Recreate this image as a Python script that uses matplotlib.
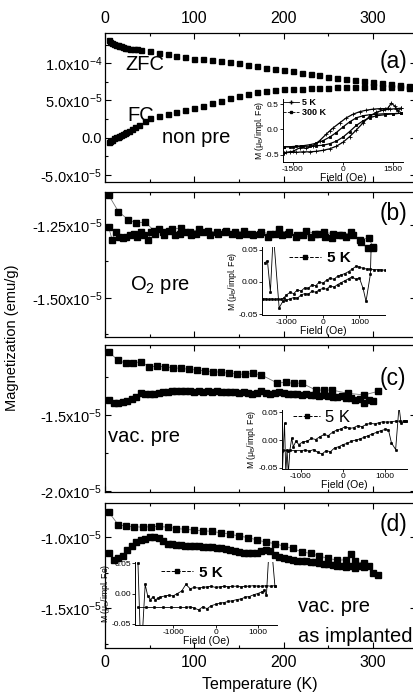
import matplotlib
matplotlib.use('Agg')
import matplotlib.pyplot as plt
from matplotlib.lines import Line2D

plt.rcParams['font.family'] = ['Liberation Sans', 'DejaVu Sans']
plt.rcParams['mathtext.fontset'] = 'custom'
plt.rcParams['mathtext.rm'] = 'Liberation Sans'
plt.rcParams['mathtext.it'] = 'Liberation Sans:italic'
plt.rcParams['mathtext.bf'] = 'Liberation Sans:bold'

# ---- main panels: temperature (K) and magnetization (units of 1e-5 emu/g) ----
t_zfc_a = [4, 6, 8, 10, 12, 14, 16, 18, 20, 22, 25, 28, 32, 36, 40, 50, 60, 70, 80, 90,
           100, 110, 120, 130, 140, 150, 160, 170, 180, 190, 200, 210, 220, 230, 240,
           250, 260, 270, 280, 290, 300, 310, 320, 330, 340]
m_zfc_a = [13.1, 12.9, 12.75, 12.6, 12.5, 12.4, 12.3, 12.25, 12.15, 12.1, 12.0, 11.95,
           11.9, 11.85, 11.8, 11.6, 11.4, 11.2, 11.0, 10.8, 10.6, 10.5, 10.4, 10.25,
           10.1, 10.0, 9.8, 9.6, 9.4, 9.25, 9.05, 8.9, 8.7, 8.55, 8.35, 8.15, 8.0, 7.85,
           7.7, 7.6, 7.5, 7.35, 7.2, 7.05, 6.9]
t_fc_a = [4, 6, 8, 10, 12, 14, 16, 18, 20, 22, 24, 27, 30, 34, 38, 45, 50, 60, 70, 80,
          90, 100, 110, 120, 130, 140, 150, 160, 170, 180, 190, 200, 210, 220, 230, 240,
          250, 260, 270, 280, 290, 300, 310, 320, 330, 340]
m_fc_a = [-0.6, -0.4, -0.25, -0.1, 0.05, 0.15, 0.25, 0.35, 0.45, 0.6, 0.75, 0.95, 1.2,
          1.45, 1.7, 2.2, 2.6, 2.9, 3.2, 3.45, 3.7, 3.95, 4.25, 4.6, 4.95, 5.3, 5.65,
          5.9, 6.1, 6.3, 6.4, 6.5, 6.55, 6.6, 6.65, 6.7, 6.72, 6.75, 6.8, 6.82, 6.85,
          6.87, 6.85, 6.8, 6.75, 6.7]

t_zfc_b = [4, 15, 26, 35, 45, 55, 65, 75, 85, 95, 105, 115, 125, 135, 145, 155, 165,
           175, 185, 195, 205, 215, 225, 235, 245, 255, 265, 275, 285, 295, 300]
m_zfc_b = [-1.147, -1.204, -1.232, -1.243, -1.24, -1.27, -1.275, -1.265, -1.26, -1.275,
           -1.265, -1.27, -1.275, -1.27, -1.275, -1.27, -1.28, -1.275, -1.28, -1.265,
           -1.28, -1.285, -1.27, -1.28, -1.275, -1.28, -1.285, -1.275, -1.30, -1.295,
           -1.325]
t_fc_b = [4, 8, 12, 16, 20, 24, 28, 32, 36, 40, 44, 48, 52, 56, 60, 66, 72, 78, 84, 90,
          96, 102, 110, 118, 126, 134, 142, 150, 158, 166, 174, 182, 190, 198, 206, 214,
          222, 230, 238, 246, 254, 262, 270, 278, 286, 294, 300]
m_fc_b = [-1.258, -1.30, -1.275, -1.29, -1.295, -1.29, -1.285, -1.28, -1.29, -1.275,
          -1.285, -1.30, -1.275, -1.28, -1.265, -1.285, -1.27, -1.285, -1.28, -1.275,
          -1.285, -1.28, -1.275, -1.285, -1.28, -1.275, -1.28, -1.285, -1.28, -1.285,
          -1.28, -1.29, -1.28, -1.285, -1.275, -1.29, -1.285, -1.29, -1.28, -1.29,
          -1.295, -1.285, -1.29, -1.285, -1.31, -1.33, -1.33]

t_zfc_c = [4, 14, 23, 31, 40, 49, 58, 67, 76, 85, 94, 103, 112, 121, 130, 139, 148,
           157, 166, 175, 193, 202, 211, 220, 236, 245, 254, 272, 290, 305]
m_zfc_c = [-1.083, -1.138, -1.16, -1.16, -1.149, -1.182, -1.18, -1.182, -1.19, -1.193,
           -1.20, -1.204, -1.21, -1.215, -1.219, -1.226, -1.23, -1.233, -1.226, -1.237,
           -1.29, -1.285, -1.292, -1.29, -1.336, -1.336, -1.336, -1.357, -1.368, -1.345]
t_fc_c = [5, 10, 15, 20, 25, 30, 35, 40, 45, 50, 55, 60, 65, 70, 75, 80, 85, 90, 95,
          100, 105, 110, 115, 120, 125, 130, 135, 140, 145, 150, 155, 160, 165, 170,
          175, 180, 185, 190, 195, 200, 205, 210, 215, 220, 225, 230, 235, 240, 245,
          250, 255, 260, 265, 270, 275, 280, 285, 290, 295, 300]
m_fc_c = [-1.40, -1.423, -1.42, -1.412, -1.405, -1.397, -1.38, -1.353, -1.36, -1.362,
          -1.36, -1.357, -1.35, -1.347, -1.345, -1.34, -1.34, -1.34, -1.345, -1.347,
          -1.345, -1.347, -1.345, -1.347, -1.345, -1.35, -1.348, -1.35, -1.35, -1.352,
          -1.35, -1.353, -1.36, -1.357, -1.345, -1.353, -1.36, -1.357, -1.35, -1.357,
          -1.362, -1.36, -1.362, -1.365, -1.36, -1.368, -1.37, -1.373, -1.365, -1.378,
          -1.38, -1.384, -1.375, -1.39, -1.385, -1.40, -1.395, -1.42, -1.40, -1.41]

t_zfc_d = [4, 15, 24, 33, 42, 51, 60, 70, 80, 90, 100, 110, 120, 130, 140, 150, 160,
           170, 180, 190, 200, 210, 220, 230, 240, 250, 260, 270, 275, 280, 290]
m_zfc_d = [-0.822, -0.915, -0.923, -0.927, -0.93, -0.927, -0.925, -0.93, -0.94, -0.945,
           -0.951, -0.955, -0.96, -0.97, -0.979, -0.993, -1.003, -1.02, -1.035, -1.046,
           -1.063, -1.08, -1.103, -1.115, -1.134, -1.15, -1.162, -1.16, -1.12, -1.17,
           -1.185]
t_fc_d = [5, 10, 15, 20, 25, 30, 35, 40, 45, 50, 55, 60, 65, 70, 75, 80, 85, 90, 95,
          100, 105, 110, 115, 120, 125, 130, 135, 140, 145, 150, 155, 160, 165, 170,
          175, 180, 185, 190, 195, 200, 205, 210, 215, 220, 225, 230, 235, 240, 245,
          250, 255, 260, 265, 270, 275, 280, 285, 290, 295, 300, 305]
m_fc_d = [-1.11, -1.16, -1.15, -1.13, -1.09, -1.06, -1.035, -1.02, -1.01, -1.0, -1.0,
          -1.005, -1.03, -1.045, -1.05, -1.055, -1.058, -1.06, -1.062, -1.063, -1.065,
          -1.068, -1.07, -1.072, -1.075, -1.08, -1.085, -1.09, -1.097, -1.104, -1.11,
          -1.115, -1.115, -1.11, -1.10, -1.088, -1.10, -1.125, -1.14, -1.15, -1.157,
          -1.162, -1.165, -1.167, -1.17, -1.174, -1.178, -1.182, -1.186, -1.19, -1.195,
          -1.2, -1.205, -1.21, -1.2, -1.215, -1.205, -1.21, -1.205, -1.255, -1.268]

# ---- insets: field (Oe) and moment (mu_B / implanted Fe) ----
h_a5_dn = [1750, 1650, 1550, 1450, 1350, 1250, 1100, 900, 700, 500, 300, 100, -100,
           -300, -400, -500, -700, -900, -1100, -1300, -1500, -1700, -1780]
m_a5_dn = [0.42, 0.36, 0.46, 0.52, 0.42, 0.41, 0.41, 0.40, 0.38, 0.35, 0.30, 0.23, 0.13,
           0.03, -0.03, -0.09, -0.22, -0.32, -0.37, -0.36, -0.43, -0.45, -0.46]
h_a5_up = [-1780, -1600, -1400, -1200, -1000, -800, -600, -400, -200, 0, 200, 400, 600,
           800, 1000, 1200, 1400, 1600, 1750]
m_a5_up = [-0.46, -0.45, -0.45, -0.44, -0.44, -0.43, -0.41, -0.38, -0.33, -0.25, -0.14,
           -0.01, 0.13, 0.26, 0.34, 0.38, 0.40, 0.41, 0.42]
h_a300_dn = [1750, 1500, 1250, 1000, 800, 600, 400, 200, 0, -200, -400, -600, -800,
             -1000, -1200, -1400, -1600, -1780]
m_a300_dn = [0.32, 0.31, 0.31, 0.30, 0.29, 0.27, 0.23, 0.15, 0.05, -0.06, -0.15, -0.22,
             -0.27, -0.30, -0.32, -0.33, -0.34, -0.34]
h_a300_up = [-1780, -1500, -1250, -1000, -800, -600, -400, -200, 0, 200, 400, 600, 800,
             1000, 1250, 1500, 1750]
m_a300_up = [-0.34, -0.34, -0.33, -0.33, -0.32, -0.31, -0.28, -0.23, -0.15, -0.04, 0.08,
             0.17, 0.23, 0.27, 0.29, 0.31, 0.32]

h_b1 = [-1640, -1560, -1480, -1400, -1320, -1240, -1160, -1080, -1000, -900, -800, -700,
        -600, -500, -400, -300, -200, -100, 0, 100, 200, 300, 400, 500, 600, 700, 800,
        900, 1000, 1100, 1200, 1300, 1400, 1500, 1600, 1700]
m_b1 = [-0.026, -0.026, -0.027, -0.026, -0.027, -0.026, -0.027, -0.025, -0.020, -0.016,
        -0.018, -0.012, -0.014, -0.009, -0.010, -0.004, -0.006, 0.0, -0.002, 0.003, 0.006,
        0.004, 0.009, 0.011, 0.013, 0.016, 0.020, 0.024, 0.023, 0.021, 0.020, 0.020,
        0.019, 0.019, 0.019, 0.018]
h_b2 = [-1600, -1520, -1440, -1360, -1200, -1100, -1000, -900, -800, -700, -600, -500,
        -400, -300, -200, -100, 0, 100, 200, 300, 400, 500, 600, 700, 800, 900, 1000,
        1100, 1180, 1300, 1330]
m_b2 = [0.030, 0.032, -0.015, 0.075, -0.040, -0.030, -0.028, -0.026, -0.024, -0.025,
        -0.020, -0.018, -0.019, -0.014, -0.016, -0.012, -0.010, -0.011, -0.006, -0.008,
        -0.004, -0.001, 0.002, 0.005, 0.008, 0.004, 0.006, -0.010, -0.030, 0.012, 0.075]

h_c1 = [-1440, -1420, -1390, -1360, -1330, -1300, -1260, -1220, -1180, -1120, -1050,
        -950, -850, -750, -650, -550, -450, -350, -250, -150, -50, 50, 150, 250, 350,
        450, 550, 650, 750, 850, 950, 1050, 1150, 1250, 1350, 1450, 1500]
m_c1 = [-0.060, -0.017, 0.030, -0.060, -0.017, -0.060, -0.017, 0.003, -0.012, -0.002,
        -0.008, -0.003, -0.002, 0.003, 0.001, 0.006, 0.010, 0.008, 0.014, 0.018, 0.020,
        0.024, 0.021, 0.022, 0.026, 0.024, 0.028, 0.030, 0.029, 0.031, 0.033, 0.032,
        0.033, 0.034, 0.034, 0.034, 0.035]
h_c2 = [-1440, -1300, -1150, -1000, -900, -800, -700, -600, -500, -400, -300, -200,
        -100, 0, 100, 200, 300, 400, 500, 600, 700, 800, 900, 1000, 1080, 1150, 1250,
        1330, 1380, 1450, 1500]
m_c2 = [-0.019, -0.019, -0.019, -0.019, -0.018, -0.020, -0.017, -0.022, -0.025, -0.019,
        -0.021, -0.014, -0.012, -0.008, -0.006, -0.002, 0.000, 0.002, 0.005, 0.008,
        0.011, 0.014, 0.017, 0.019, 0.018, -0.005, -0.017, 0.060, 0.030, 0.034, 0.034]

h_d1 = [-1830, -1780, -1720, -1660, -1600, -1540, -1480, -1420, -1350, -1300, -1200,
        -1100, -1000, -900, -800, -700, -600, -500, -400, -300, -200, -100, 0, 100, 200,
        300, 400, 500, 600, 700, 800, 900, 1000, 1100, 1200, 1300, 1400]
m_d1 = [0.05, -0.06, -0.06, 0.015, -0.004, -0.010, -0.006, -0.010, -0.008, -0.006,
        -0.004, -0.003, -0.004, 0.0, 0.004, 0.015, 0.008, 0.010, 0.009, 0.010, 0.011,
        0.012, 0.010, 0.011, 0.012, 0.011, 0.012, 0.012, 0.011, 0.012, 0.012, 0.013,
        0.012, 0.012, 0.013, 0.012, 0.013]
h_d2 = [-1830, -1650, -1450, -1250, -1050, -850, -700, -600, -500, -400, -300, -200,
        -100, 0, 100, 200, 300, 400, 500, 600, 700, 800, 900, 1000, 1100, 1150, 1200,
        1260, 1330, 1400]
m_d2 = [-0.023, -0.023, -0.023, -0.023, -0.023, -0.023, -0.023, -0.022, -0.024, -0.027,
        -0.022, -0.025, -0.020, -0.018, -0.016, -0.015, -0.013, -0.012, -0.010, -0.009,
        -0.006, -0.005, -0.002, 0.000, 0.003, 0.005, -0.003, 0.070, 0.070, 0.013]

fig = plt.figure(figsize=(4.14, 6.93), dpi=100)
W, H = 414.0, 693.0


def px_rect(left, top, right, bottom):
    return [left / W, 1 - bottom / H, (right - left) / W, (bottom - top) / H]


def main_panel(top, bottom, ylim, yticks, ylabels, yminor):
    ax = fig.add_axes(px_rect(105, top, 416, bottom))
    ax.set_xlim(0, 348)
    ax.set_ylim(*ylim)
    ax.set_xticks([0, 100, 200, 300])
    ax.set_xticks([50, 150, 250], minor=True)
    ax.set_yticks(yticks)
    ax.set_yticklabels(ylabels)
    ax.set_yticks(yminor, minor=True)
    ax.tick_params(which='both', direction='in', top=True, right=True,
                   labelbottom=False, width=0.8)
    ax.tick_params(which='major', length=4)
    ax.tick_params(which='minor', length=2.5)
    ax.tick_params(axis='y', labelsize=10.5, pad=2)
    ax.tick_params(axis='x', labelsize=11.5, pad=5)
    for s in ax.spines.values():
        s.set_linewidth(0.9)
    return ax


def series(ax, t, m, ms, line=True):
    if line:
        ax.plot(t, m, color='0.45', lw=0.6, zorder=1)
    ax.plot(t, m, ls='none', marker='s', ms=ms, color='black', mec='black', zorder=2)


ax_a = main_panel(33, 182, (-5.95, 14.05), [-5, 0, 5, 10],
                  ['-5.0x10$^{-5}$', '0.0', '5.0x10$^{-5}$', '1.0x10$^{-4}$'],
                  [-2.5, 2.5, 7.5, 12.5])
ax_a.tick_params(labeltop=True)
series(ax_a, t_zfc_a, m_zfc_a, 3.6, line=False)
series(ax_a, t_fc_a, m_fc_a, 3.6, line=False)

ax_b = main_panel(192, 337, (-1.634, -1.137), [-1.5, -1.25],
                  ['-1.50x10$^{-5}$', '-1.25x10$^{-5}$'], [-1.625, -1.375])
series(ax_b, t_zfc_b, m_zfc_b, 4.5)
series(ax_b, t_fc_b, m_fc_b, 4.5)

ax_c = main_panel(345, 492, (-2.005, -1.04), [-2.0, -1.5],
                  ['-2.0x10$^{-5}$', '-1.5x10$^{-5}$'], [-1.75, -1.25])
series(ax_c, t_zfc_c, m_zfc_c, 4.0)
series(ax_c, t_fc_c, m_fc_c, 4.0)

ax_d = main_panel(503, 648, (-1.78, -0.76), [-1.5, -1.0],
                  ['-1.5x10$^{-5}$', '-1.0x10$^{-5}$'], [-1.75, -1.25])
ax_d.tick_params(labelbottom=True)
series(ax_d, t_zfc_d, m_zfc_d, 4.0)
series(ax_d, t_fc_d, m_fc_d, 4.0)


def ftext(x, y, s, size, **kw):
    fig.text(x / W, 1 - y / H, s, fontsize=size, ha='left', va='baseline', **kw)


ftext(380, 68, '(a)', 16.5)
ftext(380, 220, '(b)', 16.5)
ftext(380, 385, '(c)', 16.5)
ftext(380, 531, '(d)', 16.5)
ftext(125, 70, 'ZFC', 14.5)
ftext(127, 121, 'FC', 14.5)
ftext(162, 143, 'non pre', 14.5)
ftext(130, 290, 'O$_2$ pre', 14.5)
ftext(108, 442, 'vac. pre', 14.5)
ftext(298, 612, 'vac. pre', 14.5)
ftext(298, 642, 'as implanted', 14.5)

fig.text(12 / W, 1 - 338 / H, 'Magnetization (emu/g)', rotation=90,
         ha='center', va='center', fontsize=10.5)
fig.text(260 / W, 1 - 685 / H, 'Temperature (K)', ha='center', va='center',
         fontsize=11.5)


def inset(rect, xlim, ylim, xticks, xlabels, yticks, ylabels, ylab_x):
    ins = fig.add_axes(rect, facecolor='none')
    ins.spines['top'].set_visible(False)
    ins.spines['right'].set_visible(False)
    for s in ins.spines.values():
        s.set_linewidth(0.7)
    ins.set_xlim(*xlim)
    ins.set_ylim(*ylim)
    ins.set_xticks(xticks)
    ins.set_xticklabels(xlabels)
    ins.set_yticks(yticks)
    ins.set_yticklabels(ylabels)
    ins.tick_params(direction='out', length=2, width=0.6, labelsize=6, pad=1)
    ins.set_xlabel('Field (Oe)', fontsize=7.5, labelpad=0)
    ins.set_ylabel('M (μ$_\\mathrm{B}$/impl. Fe)', fontsize=6.2)
    ins.yaxis.set_label_coords(ylab_x, 0.5)
    return ins


def loop(ins, h, m, marker, ms, lw=0.6):
    ins.plot(h, m, color='black', lw=lw, marker=marker, ms=ms, mew=0.6)


ins_a = inset(px_rect(283, 99, 403, 162), (-1800, 1800), (-0.64, 0.60),
              [-1500, 0, 1500], ['-1500', '0', '1500'],
              [-0.5, 0.0, 0.5], ['-0.5', '0.0', '0.5'], -0.145)
loop(ins_a, h_a5_dn, m_a5_dn, '+', 2.5, 0.9)
loop(ins_a, h_a5_up, m_a5_up, '+', 2.5, 0.9)
loop(ins_a, h_a300_dn, m_a300_dn, 's', 1.5, 0.9)
loop(ins_a, h_a300_up, m_a300_up, 's', 1.5, 0.9)
leg_a = [Line2D([], [], color='black', lw=0.6, marker='+', ms=3),
         Line2D([], [], color='black', lw=0.6, ls='--', marker='s', ms=2)]
ins_a.legend(leg_a, ['5 K', '300 K'], loc='upper left', bbox_to_anchor=(0.0, 1.02),
             frameon=False, prop={'size': 6.5, 'weight': 'bold'}, handlelength=1.8,
             handletextpad=0.3, borderpad=0, borderaxespad=0, labelspacing=0.15)

inset_ticks = dict(xticks=[-1000, 0, 1000], xlabels=['-1000', '0', '1000'],
                   yticks=[-0.05, 0.0, 0.05], ylabels=['-0.05', '0.00', '0.05'])
proxy = Line2D([], [], color='black', lw=0.7, ls='--', marker='s', ms=2.2)

ins_b = inset(px_rect(262, 247, 385, 315), (-1670, 1700), (-0.051, 0.054),
              ylab_x=-0.19, **inset_ticks)
loop(ins_b, h_b1, m_b1, 's', 1.3)
loop(ins_b, h_b2, m_b2, 's', 1.3)
ins_b.legend([proxy], ['5 K'], loc='center left', bbox_to_anchor=(0.22, 0.84),
             frameon=False, prop={'size': 11, 'weight': 'bold'}, handlelength=2.1,
             handletextpad=0.4, borderpad=0, borderaxespad=0)

ins_c = inset(px_rect(282, 410, 407, 469), (-1450, 1520), (-0.052, 0.054),
              ylab_x=-0.19, **inset_ticks)
loop(ins_c, h_c1, m_c1, 's', 1.3)
loop(ins_c, h_c2, m_c2, 's', 1.3)
ins_c.legend([proxy], ['5 K'], loc='center left', bbox_to_anchor=(0.09, 0.87),
             frameon=False, prop={'size': 12}, handlelength=1.6,
             handletextpad=0.3, borderpad=0, borderaxespad=0)

ins_d = inset(px_rect(135, 562, 277, 625), (-1900, 1450), (-0.052, 0.052),
              ylab_x=-0.165, **inset_ticks)
loop(ins_d, h_d1, m_d1, 's', 1.3)
loop(ins_d, h_d2, m_d2, 's', 1.3)
ins_d.legend([proxy], ['5 K'], loc='center left', bbox_to_anchor=(0.18, 0.83),
             frameon=False, prop={'size': 11, 'weight': 'bold'}, handlelength=2.1,
             handletextpad=0.4, borderpad=0, borderaxespad=0)

fig.savefig('out.png', dpi=100)
